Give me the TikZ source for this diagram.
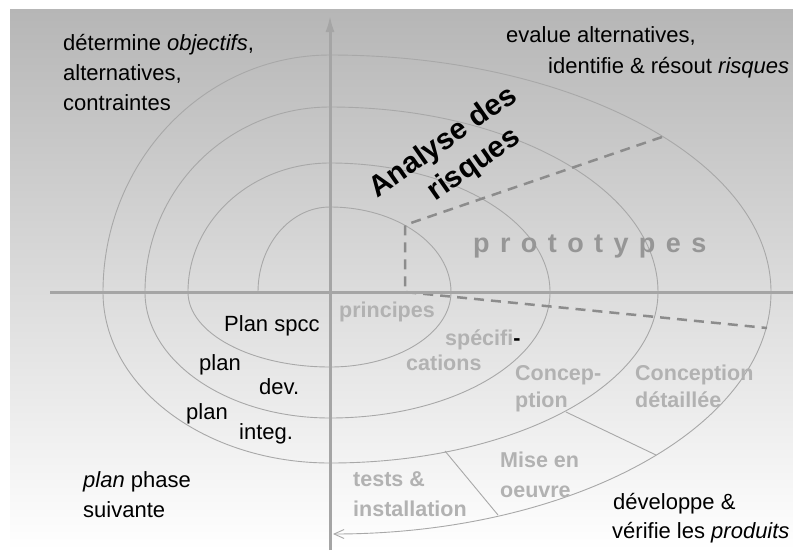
\documentclass[tikz,border=0pt]{standalone}
\usepackage{fontspec}
\setmainfont{Liberation Sans}
\usetikzlibrary{arrows.meta}
\definecolor{bgtop}{RGB}{182,182,182}
\definecolor{bgmid}{RGB}{222,222,222}
\definecolor{axisgray}{RGB}{165,165,165}
\definecolor{spiralgray}{RGB}{168,168,168}
\definecolor{dashgray}{RGB}{140,140,140}
\definecolor{lblgray}{RGB}{178,178,178}
\definecolor{protogray}{RGB}{150,150,150}
\begin{document}
\begin{tikzpicture}[x=1pt,y=-1pt,
  txt/.style={inner sep=0pt, anchor=base west, font=\fontsize{22}{26}\selectfont, text=black},
  lbl/.style={inner sep=0pt, anchor=base west, font=\fontsize{21.5}{26}\selectfont\bfseries, text=lblgray},
  risk/.style={inner sep=0pt, anchor=base west, align=left, font=\fontsize{29.5}{36}\selectfont\bfseries, text=black, rotate=35},
  axisline/.style={draw=axisgray, line width=3pt},
  spiral/.style={draw=spiralgray, line width=0.9pt},
  riskdash/.style={draw=dashgray, line width=2.5pt, dash pattern=on 10pt off 7pt},
]
\useasboundingbox (0,0) rectangle (793,550);
\fill[white] (0,0) rectangle (793,550);
\shade[top color=bgtop, middle color=bgmid, bottom color=white] (10,9) rectangle (793,550);

% spiral
\draw[spiral, -{Straight Barb[length=10pt,width=9pt]}] (258,292)
 .. controls (258,245.1) and (290.2,207) .. (330,207)
 .. controls (396.8,207) and (451,245.1) .. (451,292)
 .. controls (451,333.4) and (396.8,367) .. (330,367)
 .. controls (251.6,367) and (188,333.4) .. (188,292)
 .. controls (188,220.8) and (251.6,163) .. (330,163)
 .. controls (451.5,163) and (550,220.8) .. (550,292)
 .. controls (550,361.6) and (451.5,418) .. (330,418)
 .. controls (227.8,418) and (145,361.6) .. (145,292)
 .. controls (145,189.8) and (227.8,107) .. (330,107)
 .. controls (511.2,107) and (658,189.8) .. (658,292)
 .. controls (658,386.4) and (511.2,463) .. (330,463)
 .. controls (204.6,463) and (103,386.4) .. (103,292)
 .. controls (103,161.1) and (204.6,55) .. (330,55)
 .. controls (573.6,55) and (771,161.1) .. (771,292)
 .. controls (771,425.7) and (573.6,534) .. (333,534);

% radial separators
\coordinate (r1a) at (566,412);
\coordinate (r1b) at (656,455);
\coordinate (r2a) at (445,451);
\coordinate (r2b) at (498,515);
\draw[spiral] (r1a) -- (r1b);
\draw[spiral] (r2a) -- (r2b);

% risk analysis boundary
\coordinate (d1) at (662,137);
\coordinate (d2) at (405,225);
\coordinate (d3) at (405,292);
\coordinate (d4) at (767,328);
\draw[riskdash] (d1) -- (d2) -- (d3) -- (d4);

% axes
\coordinate (xl) at (50,292);
\coordinate (xr) at (793,292);
\coordinate (yb) at (330,550);
\coordinate (yt) at (330,15);
\draw[axisline] (xl) -- (xr);
\draw[axisline, -{Latex[length=17pt,width=9pt]}] (yb) -- (yt);

% quadrant texts
\node[txt] (tl1) at (63,50) {détermine \textit{objectifs},};
\node[txt] (tl2) at (63,80) {alternatives,};
\node[txt] (tl3) at (63,110) {contraintes};
\node[txt] (tr1) at (506,42) {evalue alternatives,};
\node[txt] (tr2) at (548,73) {identifie \& résout \textit{risques}};
\node[txt] (bl1) at (83,487) {\textit{plan} phase};
\node[txt] (bl2) at (83,517) {suivante};
\node[txt] (br1) at (613,509) {développe \&};
\node[txt] (br2) at (612,538) {vérifie les \textit{produits}};

% plan labels
\node[txt] (ps) at (224,331) {Plan spcc};
\node[txt] (pd1) at (199,370) {plan};
\node[txt] (pd2) at (259,394) {dev.};
\node[txt] (pi1) at (186,419) {plan};
\node[txt] (pi2) at (239,439) {integ.};

% risk analysis
\node[risk] (ana) at (398,228) {Analyse des\\\hspace*{46pt}risques};

% prototypes
\node[inner sep=0pt, anchor=base west, font=\fontsize{27}{30}\selectfont\bfseries, text=protogray] (proto) at (473,252)
 {p\kern10.4pt r\kern10.4pt o\kern10.4pt t\kern10.4pt o\kern10.4pt t\kern10.4pt y\kern10.4pt p\kern10.4pt e\kern10.4pt s};

% development labels
\node[lbl] (pr) at (339,317) {principes};
\node[lbl] (sp1) at (445,345) {spécifi\textcolor{black}{-}};
\node[lbl] (sp2) at (406,370) {cations};
\node[lbl] (co1) at (515,380) {Concep-};
\node[lbl] (co2) at (515,407) {ption};
\node[lbl] (cd1) at (635,380) {Conception};
\node[lbl] (cd2) at (635,407) {détaillée};
\node[lbl] (mo1) at (500,467) {Mise en};
\node[lbl] (mo2) at (500,497) {oeuvre};
\node[lbl] (ti1) at (353,486) {tests \&};
\node[lbl] (ti2) at (353,516) {installation};
\end{tikzpicture}
\end{document}
